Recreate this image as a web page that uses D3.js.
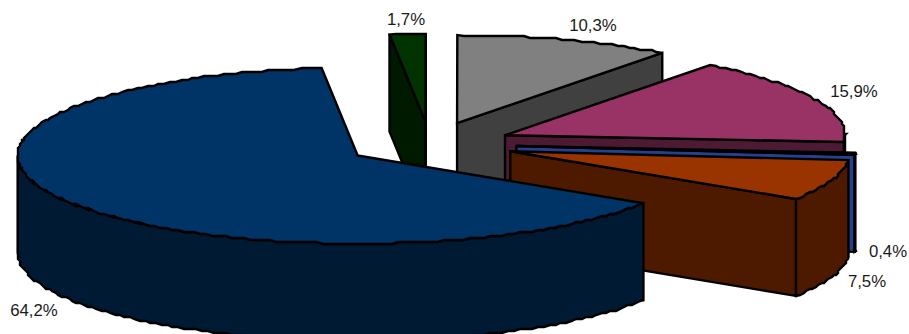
<!DOCTYPE html>
<html>
<head>
<meta charset="utf-8">
<style>
html,body{margin:0;padding:0;background:#fff;overflow:hidden}
svg{display:block}
text{font-family:"Liberation Sans",Arial,sans-serif;font-size:16.8px;fill:#1a1a1a}
</style>
<script src="https://cdn.jsdelivr.net/npm/d3@7/dist/d3.min.js"></script>
</head>
<body>
<svg id="chart" width="909" height="334"></svg>
<script>
// Slice shares in percent, clockwise from the large slice
const shares = [64.2, 1.7, 10.3, 15.9, 0.4, 7.5];
const topColors = ["#003366", "#003300", "#808080", "#993366", "#24408f", "#993300"];
const wallColors = ["#001a33", "#001a00", "#404040", "#4d1a33", "#24408f", "#4d1a00"];
// How far each slice is pulled out of the pie, as a fraction of the radius
const explodes = [0.25, 0.25, 0.25, 0.242, 0.255, 0.25];
// Text anchor of each percentage label
const labelX = [34, 406, 593, 854, 888, 867];
const labelY = [316, 25, 31, 97, 257, 287];

// Projection of the tilted pie: unit circle to screen pixels
const centerX = 430, centerY = 144;
const radiusX = 340, radiusY = 88;
const depth = 97;
const firstAngle = 122.8 * Math.PI / 180;
const x = d3.scaleLinear().domain([-1, 1]).range([centerX - radiusX, centerX + radiusX]);
const y = d3.scaleLinear().domain([-1, 1]).range([centerY - radiusY, centerY + radiusY]);

const svg = d3.select("#chart");
const line = d3.line().x(p => p[0]).y(p => p[1]).curve(d3.curveLinear);

const TAU = 2 * Math.PI;
const slices = d3.pie().sort(null)
  .startAngle(firstAngle).endAngle(firstAngle + TAU)(shares);

// Angles are clockwise from twelve o'clock
function point(angle, r) {
  return [x(r.ox + Math.sin(angle)), y(r.oy - Math.cos(angle))];
}
// Rim samples snapped to a coarse grid, giving the rim its stepped outline
function rim(a0, a1, r) {
  const n = Math.max(2, Math.ceil(Math.abs(a1 - a0) / 0.02));
  const step = 2;
  return d3.range(n + 1).map(i => {
    const p = point(a0 + (a1 - a0) * i / n, r);
    return (i === 0 || i === n) ? p : [Math.round(p[0] / step) * step, Math.round(p[1] / step) * step];
  });
}
const drop = pts => pts.map(p => [p[0], p[1] + depth]);

// Paint order runs from the back of the pie to the front
const paintOrder = [2, 1, 3, 4, 5, 0];
paintOrder.forEach(i => {
  const s = slices[i];
  const mid = (s.startAngle + s.endAngle) / 2;
  const off = { ox: explodes[i] * Math.sin(mid), oy: -explodes[i] * Math.cos(mid) };
  const apex = [x(off.ox), y(off.oy)];
  const g = svg.append("g");
  const face = (pts, fill) => g.append("path")
    .attr("d", line(pts) + "Z")
    .attr("fill", fill).attr("stroke", "#000")
    .attr("stroke-width", 2.4).attr("stroke-linejoin", "miter");

  // Radial cut faces that turn toward the viewer
  [[s.startAngle, -1], [s.endAngle, 1]].forEach(([a, sign]) => {
    if (sign * Math.sin(a) > 0) {
      const e = point(a, off);
      face([apex, e, [e[0], e[1] + depth], [apex[0], apex[1] + depth]], wallColors[i]);
    }
  });

  // Outer wall: the part of the rim on the near half of the ellipse
  [0, TAU].forEach(turn => {
    const lo = Math.max(s.startAngle, Math.PI / 2 + turn);
    const hi = Math.min(s.endAngle, 3 * Math.PI / 2 + turn);
    if (hi > lo) {
      const edge = rim(lo, hi, off);
      face(edge.concat(drop(edge).reverse()), wallColors[i]);
    }
  });

  // Top surface
  face([apex].concat(rim(s.startAngle, s.endAngle, off)), topColors[i]);
});

// Percentage labels with a decimal comma
const fmt = v => v.toFixed(1).replace(".", ",") + "%";
svg.append("g").selectAll("text").data(shares).join("text")
  .attr("x", (d, i) => labelX[i])
  .attr("y", (d, i) => labelY[i])
  .attr("text-anchor", "middle")
  .text(fmt);
</script>
</body>
</html>
